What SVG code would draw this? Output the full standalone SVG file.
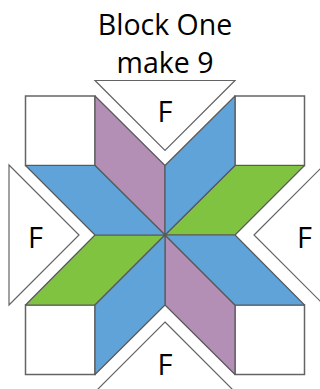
<svg xmlns="http://www.w3.org/2000/svg" width="320" height="389" viewBox="0 0 320 389">
<style>
.s{fill:#fff;stroke:#636466;stroke-width:1.5}
.p{stroke:#58595b;stroke-width:1.2;stroke-linejoin:round}
.b{fill:#5fa3d8}.v{fill:#b48fb5}.g{fill:#80c341}
.t{fill:#fff;stroke:#636466;stroke-width:1.2}
text{font-family:"Open Sans","Noto Sans",sans-serif;fill:#000;text-anchor:middle}
.h{font-size:28.5px}.f{font-size:29px}
</style>
<g id="title"><text class="h" x="165" y="35">Block One</text><text class="h" x="165" y="72.500">make 9</text></g>
<g id="square-tl"><rect class="s" x="25.5" y="96" width="69.5" height="69.5"/></g>
<g id="square-tr"><rect class="s" x="235" y="96" width="69.5" height="69.5"/></g>
<g id="square-bl"><rect class="s" x="25.5" y="305" width="69.5" height="69.5"/></g>
<g id="square-br"><rect class="s" x="235" y="305" width="69.5" height="69.5"/></g>
<g id="diamond-1"><polygon class="p g" points="165,235 235,165.5 304.500,165.500 235,235"/></g>
<g id="diamond-2"><polygon class="p g" points="165,235 95,305 25.500,305 95,235"/></g>
<g id="diamond-3"><polygon class="p v" points="165,235 95,165.500 95,96 165,165.500"/></g>
<g id="diamond-4"><polygon class="p v" points="165,235 235,305 235,374.500 165,305"/></g>
<g id="diamond-5"><polygon class="p b" points="165,235 165,165.500 235,96 235,165.500"/></g>
<g id="diamond-6"><polygon class="p b" points="165,235 95,235 25.500,165.500 95,165.500"/></g>
<g id="diamond-7"><polygon class="p b" points="165,235 235,235 304.500,305 235,305"/></g>
<g id="diamond-8"><polygon class="p b" points="165,235 165,305 95,374.500 95,305"/></g>
<g id="f-top"><polygon class="t" points="95,80.500 235,80.500 165,150.500"/><text class="f" x="165" y="122">F</text></g>
<g id="f-left"><polygon class="t" points="9,165 79,235 9,305"/><text class="f" x="35.500" y="248">F</text></g>
<g id="f-right"><polygon class="t" points="254,235 324,165 324,305"/><text class="f" x="304.500" y="248">F</text></g>
<g id="f-bottom"><polygon class="t" points="165,322 235,392 95,392"/><text class="f" x="165" y="375">F</text></g>
</svg>
